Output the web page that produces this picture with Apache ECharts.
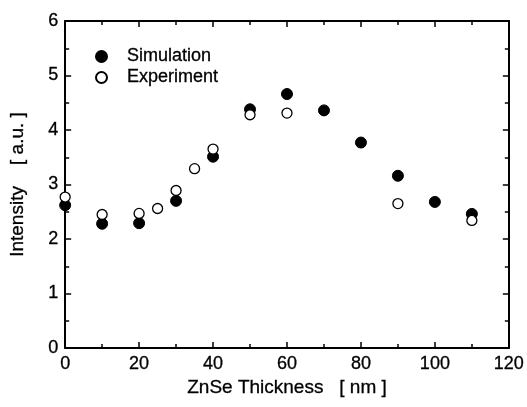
<!DOCTYPE html>
<html><head><meta charset="utf-8">
<script src="https://cdn.jsdelivr.net/npm/echarts@6/dist/echarts.min.js"></script>
<style>html,body{margin:0;padding:0;background:#fff}#c{width:527px;height:407px}</style>
</head><body><div id="c"></div>
<script>
const simX = [0, 10, 20, 30, 40, 50, 60, 70, 80, 90, 100, 110];
const simY = [2.62, 2.28, 2.29, 2.70, 3.51, 4.38, 4.66, 4.36, 3.77, 3.16, 2.68, 2.46];
const expX = [0, 10, 20, 25, 30, 35, 40, 50, 60, 90, 110];
const expY = [2.77, 2.45, 2.47, 2.56, 2.89, 3.29, 3.65, 4.28, 4.31, 2.65, 2.34];
const xTitle = 'ZnSe Thickness   [ nm ]';
const yTitle = 'Intensity    [ a.u. ]';

const font = 'Liberation Sans, Arial, sans-serif';
const txt = {fontFamily: font, color: '#000', textBorderColor: '#000', textBorderWidth: 0.3};
const axisBase = {
  axisLine: {show: true, onZero: false, lineStyle: {color: '#000', width: 2}},
  axisTick: {show: true, inside: true, length: 6, lineStyle: {color: '#000', width: 1.5}},
  minorTick: {show: true, splitNumber: 2, length: 4, lineStyle: {color: '#000', width: 1.5}},
  splitLine: {show: false}
};
const chart = echarts.init(document.getElementById('c'), null, {renderer: 'canvas'});
chart.setOption({
  animation: false,
  backgroundColor: '#fff',
  grid: {left: 63, right: 18, top: 21, bottom: 59},
  legend: {
    orient: 'vertical', left: 90, top: 42, itemGap: 2, itemWidth: 11, itemHeight: 11,
    textStyle: Object.assign({}, txt, {fontSize: 18, lineHeight: 19, padding: [0, 0, 0, 15]}),
    data: ['Simulation', 'Experiment']
  },
  xAxis: [
    Object.assign({}, axisBase, {type: 'value', position: 'bottom', min: 0, max: 120, interval: 20,
      name: xTitle, nameLocation: 'middle', nameGap: 30,
      nameTextStyle: Object.assign({}, txt, {fontSize: 19}),
      axisLabel: Object.assign({}, txt, {fontSize: 18, margin: 7})}),
    Object.assign({}, axisBase, {type: 'value', position: 'top', min: 0, max: 120, interval: 20,
      axisLabel: {show: false}})
  ],
  yAxis: [
    Object.assign({}, axisBase, {type: 'value', position: 'left', min: 0, max: 6, interval: 1,
      name: yTitle, nameLocation: 'middle', nameGap: 38, nameRotate: 90,
      nameTextStyle: Object.assign({}, txt, {fontSize: 19}),
      axisLabel: Object.assign({}, txt, {fontSize: 18, margin: 7})}),
    Object.assign({}, axisBase, {type: 'value', position: 'right', min: 0, max: 6, interval: 1,
      axisLabel: {show: false}})
  ],
  series: [
    {name: 'Simulation', type: 'scatter', symbol: 'circle', symbolSize: 11,
      data: simX.map((x, i) => [x, simY[i]]),
      itemStyle: {color: '#000', borderColor: '#000', borderWidth: 1, opacity: 1}, z: 3},
    {name: 'Experiment', type: 'scatter', symbol: 'circle', symbolSize: 10,
      data: expX.map((x, i) => [x, expY[i]]),
      itemStyle: {color: '#fff', borderColor: '#000', borderWidth: 1.3, opacity: 1}, z: 4}
  ]
});
</script></body></html>
